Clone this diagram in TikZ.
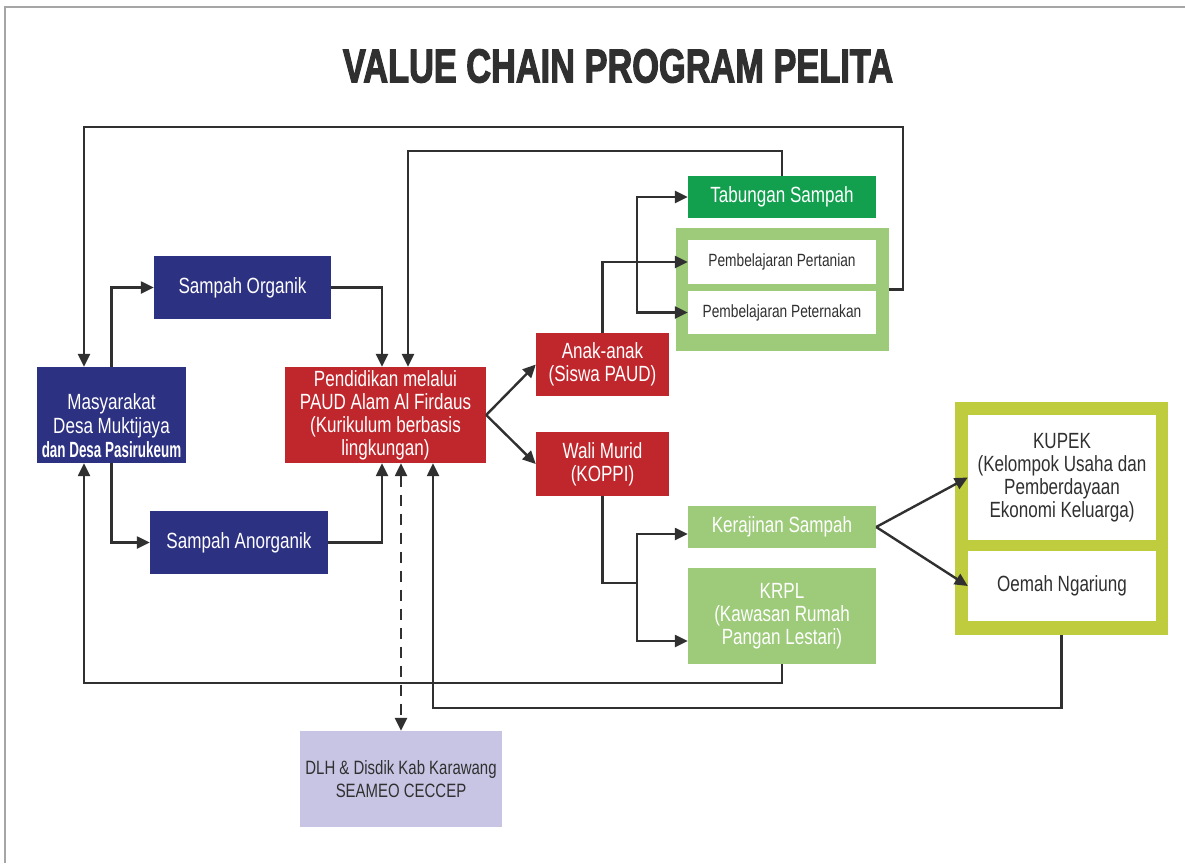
\documentclass[tikz,border=0pt]{standalone}
\usepackage{graphicx}
\usepackage{fontspec}
\usetikzlibrary{arrows.meta,calc}
\setmainfont{Liberation Sans}
\newfontfamily\boxfont[FakeStretch=0.775]{Liberation Sans}
\newfontfamily\boxbold[FakeStretch=0.61]{Liberation Sans}
\newfontfamily\titlefont[FakeBold=3]{Liberation Sans Bold}

\definecolor{navy}{RGB}{45,49,130}
\definecolor{brick}{RGB}{192,39,45}
\definecolor{leaf}{RGB}{18,160,78}
\definecolor{mint}{RGB}{157,203,122}
\definecolor{lime}{RGB}{190,204,62}
\definecolor{lilac}{RGB}{200,197,228}
\definecolor{ink}{RGB}{48,48,48}

\tikzset{
  box/.style={rectangle, inner sep=2pt, align=center,
    font=\boxfont\fontsize{22}{23}\selectfont},
  navybox/.style={box, fill=navy, text=white},
  redbox/.style={box, fill=brick, text=white},
  leafbox/.style={box, fill=leaf, text=white},
  mintbox/.style={box, fill=mint, text=white},
  whitebox/.style={box, fill=white, text=ink},
  lilacbox/.style={box, fill=lilac, text=ink},
  framebox/.style={rectangle, inner sep=0pt},
  conn/.style={draw=ink, line width=2.4pt},
  arr/.style={conn, -{Triangle[length=13pt,width=12pt]}},
  dasharr/.style={conn, dash pattern=on 11pt off 8pt,
    {Triangle[length=13pt,width=12pt]}-{Triangle[length=13pt,width=12pt]}},
}

\begin{document}
\begin{tikzpicture}[x=1pt,y=-1pt]
\useasboundingbox (0,0) rectangle (1185,863);
\fill[white] (0,0) rectangle (1185,863);
\draw[black!35, line width=1.5pt] (5,863) -- (5,7) -- (1185,7);

% title
\node[text=ink, inner sep=0pt] (title) at (618,66)
  {\resizebox{550pt}{33pt}{\titlefont VALUE CHAIN PROGRAM PELITA}};

% left part: community, waste streams, school
\node[navybox, minimum width=149pt, minimum height=96pt] (mas) at (111.5,415) {};
\node[box, text=white, font=\boxfont\fontsize{22}{24}\selectfont]
  (mastext) at ($(mas.center)+(0,11)$)
  {Masyarakat\\Desa Muktijaya\\{\boxbold\bfseries dan Desa Pasirukeum}};
\node[navybox, minimum width=177pt, minimum height=63pt] (org) at (242.5,287.5)
  {Sampah Organik};
\node[navybox, minimum width=178pt, minimum height=63pt] (anorg) at (239,542.5)
  {Sampah Anorganik};
\node[redbox, minimum width=201pt, minimum height=96pt] (pend) at (385.5,415)
  {Pendidikan melalui\\PAUD Alam Al Firdaus\\(Kurikulum berbasis\\lingkungan)};
\node[lilacbox, minimum width=202pt, minimum height=96pt,
  font=\boxfont\fontsize{19.3}{23}\selectfont] (dlh) at (401,779)
  {DLH \& Disdik Kab Karawang\\SEAMEO CECCEP};

% children and parents
\node[redbox, minimum width=133pt, minimum height=63pt] (anak) at (602.5,364.5)
  {Anak-anak\\(Siswa PAUD)};
\node[redbox, minimum width=133pt, minimum height=64pt] (wali) at (602.5,464)
  {Wali Murid\\(KOPPI)};

% children's activities
\node[leafbox, minimum width=188pt, minimum height=42pt] (tab) at (782,197)
  {Tabungan Sampah};
\node[framebox, fill=mint, minimum width=213pt, minimum height=123pt] (pframe)
  at (782.5,289.5) {};
\node[whitebox, minimum width=188pt, minimum height=44pt,
  font=\boxfont\fontsize{17.7}{20}\selectfont] (pert) at (782,262)
  {Pembelajaran Pertanian};
\node[whitebox, minimum width=188pt, minimum height=43pt,
  font=\boxfont\fontsize{17.7}{20}\selectfont] (peter) at (782,312.5)
  {Pembelajaran Peternakan};

% parents' activities
\node[mintbox, minimum width=188pt, minimum height=42pt] (keraj) at (782,527)
  {Kerajinan Sampah};
\node[mintbox, minimum width=188pt, minimum height=96pt] (krpl) at (782,616)
  {KRPL\\(Kawasan Rumah\\Pangan Lestari)};
\node[framebox, fill=lime, minimum width=213pt, minimum height=233pt] (kframe)
  at (1061.5,518.5) {};
\node[whitebox, minimum width=188pt, minimum height=125pt] (kupek) at (1062,477.5)
  {KUPEK\\(Kelompok Usaha dan\\Pemberdayaan\\Ekonomi Keluarga)};
\node[whitebox, minimum width=188pt, minimum height=70pt] (oemah) at (1062,586)
  {Oemah Ngariung};

% routing points
\coordinate (ltop) at (84,127);
\coordinate (rtop) at (903,127);
\coordinate (mtop) at (408,151);
\coordinate (xa) at (382,0);
\coordinate (lowA) at (84,683);
\coordinate (lowB) at (433,708);
\coordinate (jup) at (637,0);
\coordinate (jlow) at (637,583);

% feedback loops
\draw[arr] (pframe.east) -| (rtop) -- (ltop) -- (ltop |- mas.north);
\draw[arr] (tab.north) |- (mtop) -- (mtop |- pend.north);
\draw[arr] (krpl.south) |- (lowA) -- (lowA |- mas.south);
\draw[arr] (kframe.south) |- (lowB) -- (lowB |- pend.south);

% waste streams
\draw[arr] (mas.north) |- (org.west);
\draw[arr] (mas.south) |- (anorg.west);
\draw[arr] (org.east) -| (xa |- pend.north);
\draw[arr] (anorg.east) -| (xa |- pend.south);

% partners
\draw[dasharr] (dlh.north |- pend.south) -- (dlh.north);

% school outputs
\draw[arr] (pend.east) -- (anak.west);
\draw[arr] (pend.east) -- (wali.west);
\draw[arr] (anak.north) |- (pert.west);
\draw[arr] (jup |- pert.west) |- (tab.west);
\draw[arr] (jup |- pert.west) |- (peter.west);
\draw[conn] (wali.south) |- (jlow);
\draw[arr] (jlow) |- ($(keraj.west)+(0,7)$);
\draw[arr] (jlow) |- ($(krpl.west)+(0,25)$);
\draw[arr] (keraj.east) -- (kupek.west);
\draw[arr] (keraj.east) -- (oemah.west);
\end{tikzpicture}
\end{document}
